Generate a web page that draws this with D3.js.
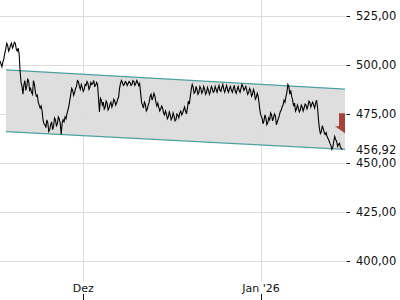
<!DOCTYPE html>
<html>
<head>
<meta charset="utf-8">
<script src="https://cdn.jsdelivr.net/npm/d3@7"></script>
<style>
  html, body { margin: 0; padding: 0; background: #fff; }
  svg { display: block; font-family: "DejaVu Sans", sans-serif; }
</style>
</head>
<body>
<svg id="chart" width="400" height="300"></svg>
<script>
// Kursverlauf, 4-Stunden-Raster ab 16.11.2025 12:00
const START = new Date(2025, 10, 16, 12);
const END = new Date(2026, 0, 15, 15);
const STEP_H = 4;

const prices = [
  502, 500.5, 499, 501.5, 503, 506, 508, 511, 510, 507, 508, 510, 511, 508.5, 509.5, 511.5, 511, 508, 507, 508.5,
  505.5, 497, 491, 489, 485, 490, 492, 487, 489, 493, 491.5, 487, 488, 486, 485, 492, 490, 486, 484, 484.5,
  481, 479.5, 478, 479, 476.5, 472, 470, 469.5, 468, 472, 470.5, 466, 467, 469.5, 471, 467, 468.5, 473, 472, 469,
  470, 473.5, 472.5, 470, 464.5, 470.5, 472, 471, 473.5, 472.5, 475, 477, 479, 482, 485, 488, 487, 484.5, 486, 488,
  489, 492, 491.5, 489, 487.5, 490, 488.5, 486.5, 487.5, 490, 489.5, 491.5, 490.5, 487.5, 488.5, 491, 490, 490.5, 492, 489,
  489.5, 491, 490, 483, 476, 483, 482, 479.5, 481, 477.5, 478.5, 481.5, 480.5, 477, 478, 480, 481, 478.5, 480, 482.5,
  481.5, 479.5, 480.5, 482.5, 483.5, 488, 490.5, 492, 491, 489.5, 490, 491.5, 491, 489.5, 490.5, 491.5, 491, 489.5, 490, 492,
  491.5, 489.5, 490.5, 492, 491, 489.5, 490.5, 486, 481, 479.5, 478, 481, 480, 476.5, 477.5, 479.5, 481, 484, 485, 482,
  483.5, 485.5, 484, 481, 479, 480.5, 478.5, 476.5, 477.5, 479, 478, 475.5, 474.5, 476.5, 475, 472.5, 473.5, 476, 474.5, 472,
  473, 475.5, 474, 471.5, 472, 475, 474.5, 473, 475.5, 476.5, 474.5, 475.5, 477, 478.5, 476.5, 475, 478, 481.5, 480, 484,
  487.5, 490, 488.5, 485.5, 486, 489, 487.5, 485, 486, 489, 488, 485.5, 486.5, 489, 487.5, 485, 486, 488.5, 487, 485,
  486.5, 489, 488, 486, 486.5, 489, 487.5, 486, 488, 489.5, 487, 486.5, 488.5, 490, 487.5, 486, 488, 489.5, 487, 486,
  488, 489, 487, 486, 488, 489.5, 486.5, 485.5, 487.5, 489, 487, 486, 488, 490, 489, 487, 488, 489, 487, 485,
  486, 488, 487, 484, 485, 487.5, 486, 482.5, 483.5, 485.5, 484, 480, 476, 474, 473, 470, 471.5, 474.5, 473, 469.5,
  470.5, 473, 472, 475.5, 474.5, 471.5, 473, 475, 474, 469.5, 471, 472.5, 474, 476, 477, 478.5, 479.5, 482, 481, 484,
  486, 490, 489, 485, 487, 484, 482, 479, 480.5, 476.5, 477.5, 479.5, 478, 476, 477, 479.5, 478.5, 476.5, 478, 480,
  479.5, 477.5, 479, 481.5, 481, 478.5, 480, 481, 479.5, 478, 480.5, 482, 478.5, 472, 467.5, 465, 466, 469, 467.5, 465.5,
  464.5, 465.5, 463.5, 462.5, 461.5, 460, 459, 457, 458, 461, 463.5, 462, 461, 458.5, 459.5, 460, 458, 457.5, 456.92
];

// Trendkanal (oben / unten, Anfang / Ende)
const channelStart = new Date(2025, 10, 17, 13);
const channelTop = [497.4, 487.6];
const channelBottom = [466.0, 457.0];

const yTicks = [400, 425, 450, 475, 500, 525];
const xTicks = [new Date(2025, 11, 1), new Date(2026, 0, 1)];
const xLabels = ['Dez', "Jan '26"];

const lastPrice = 456.92;
const arrowFrom = 475.3;
const arrowTo = 465.2;

const W = 345, H = 281.7;

const svg = d3.select('#chart');
const de = d3.formatLocale({ decimal: ',', thousands: '.', grouping: [3], currency: ['', ' €'] });
const fmt = de.format(',.2f');

const x = d3.scaleTime().domain([START, END]).range([0, W]);
const y = d3.scaleLinear().domain([389.6, 533]).range([H, 0]);

const data = prices.map((v, i) => ({ t: d3.timeHour.offset(START, i * STEP_H), v }));

svg.append('defs').append('clipPath').attr('id', 'plot')
  .append('rect').attr('x', 0).attr('y', 0).attr('width', W).attr('height', H);

// Gitter
const grid = svg.append('g').attr('class', 'grid');
grid.selectAll('line.h').data(yTicks).join('line').attr('class', 'h')
  .attr('x1', 0).attr('x2', W)
  .attr('y1', d => Math.round(y(d)) + 0.5).attr('y2', d => Math.round(y(d)) + 0.5)
  .attr('stroke', '#dcdcdc');
grid.selectAll('line.v').data(xTicks).join('line').attr('class', 'v')
  .attr('x1', d => Math.round(x(d)) + 0.5).attr('x2', d => Math.round(x(d)) + 0.5)
  .attr('y1', 0).attr('y2', H)
  .attr('stroke', '#dcdcdc');

const plot = svg.append('g').attr('clip-path', 'url(#plot)');

// Kanal
const c0 = x(channelStart), c1 = x(END);
plot.append('path')
  .attr('d', `M${c0},${y(channelTop[0])} L${c1},${y(channelTop[1])} L${c1},${y(channelBottom[1])} L${c0},${y(channelBottom[0])} Z`)
  .attr('fill', '#dcdcdc').attr('fill-opacity', 0.95);
[channelTop, channelBottom].forEach(c => {
  plot.append('line')
    .attr('x1', c0).attr('y1', y(c[0])).attr('x2', c1).attr('y2', y(c[1]))
    .attr('stroke', '#4e9f9f').attr('stroke-width', 1.2);
});

// Kurslinie
plot.append('path').datum(data)
  .attr('fill', 'none')
  .attr('stroke', '#000')
  .attr('stroke-width', 1.1)
  .attr('stroke-linejoin', 'miter')
  .attr('d', d3.line().x(d => x(d.t)).y(d => y(d.v)));

// Pfeil (Veränderung)
const ax = x(END), a0 = y(arrowFrom), a1 = y(arrowTo);
const aBody = a0 + (a1 - a0) * 0.65;
plot.append('path')
  .attr('d', `M${ax - 6},${a0} L${ax + 6},${a0} L${ax + 6},${aBody} L${ax + 10},${aBody} L${ax},${a1} L${ax - 10},${aBody} L${ax - 6},${aBody} Z`)
  .attr('fill', '#a5423a');

// Y-Achse rechts
const yAxis = svg.append('g').attr('class', 'y-axis');
yAxis.selectAll('line').data(yTicks).join('line')
  .attr('x1', W + 1.5).attr('x2', W + 5)
  .attr('y1', d => Math.round(y(d)) + 0.5).attr('y2', d => Math.round(y(d)) + 0.5)
  .attr('stroke', '#111');
yAxis.selectAll('text').data(yTicks).join('text')
  .attr('x', W + 11).attr('y', d => y(d))
  .attr('dy', '0.36em')
  .attr('font-size', 11.5).attr('fill', '#111')
  .text(d => fmt(d));
svg.append('text')
  .attr('x', W + 11).attr('y', y(lastPrice))
  .attr('dy', '0.36em')
  .attr('font-size', 11.5).attr('fill', '#111')
  .text(fmt(lastPrice));

// X-Achse
const xAxis = svg.append('g').attr('class', 'x-axis');
xAxis.selectAll('text').data(xTicks).join('text')
  .attr('x', d => x(d)).attr('y', 291.5)
  .attr('text-anchor', 'middle')
  .attr('font-size', 11).attr('fill', '#111')
  .text((d, i) => xLabels[i]);
xAxis.selectAll('line').data(xTicks).join('line')
  .attr('x1', d => Math.round(x(d)) + 0.5).attr('x2', d => Math.round(x(d)) + 0.5)
  .attr('y1', 294).attr('y2', 300)
  .attr('stroke', '#111');
</script>
</body>
</html>
